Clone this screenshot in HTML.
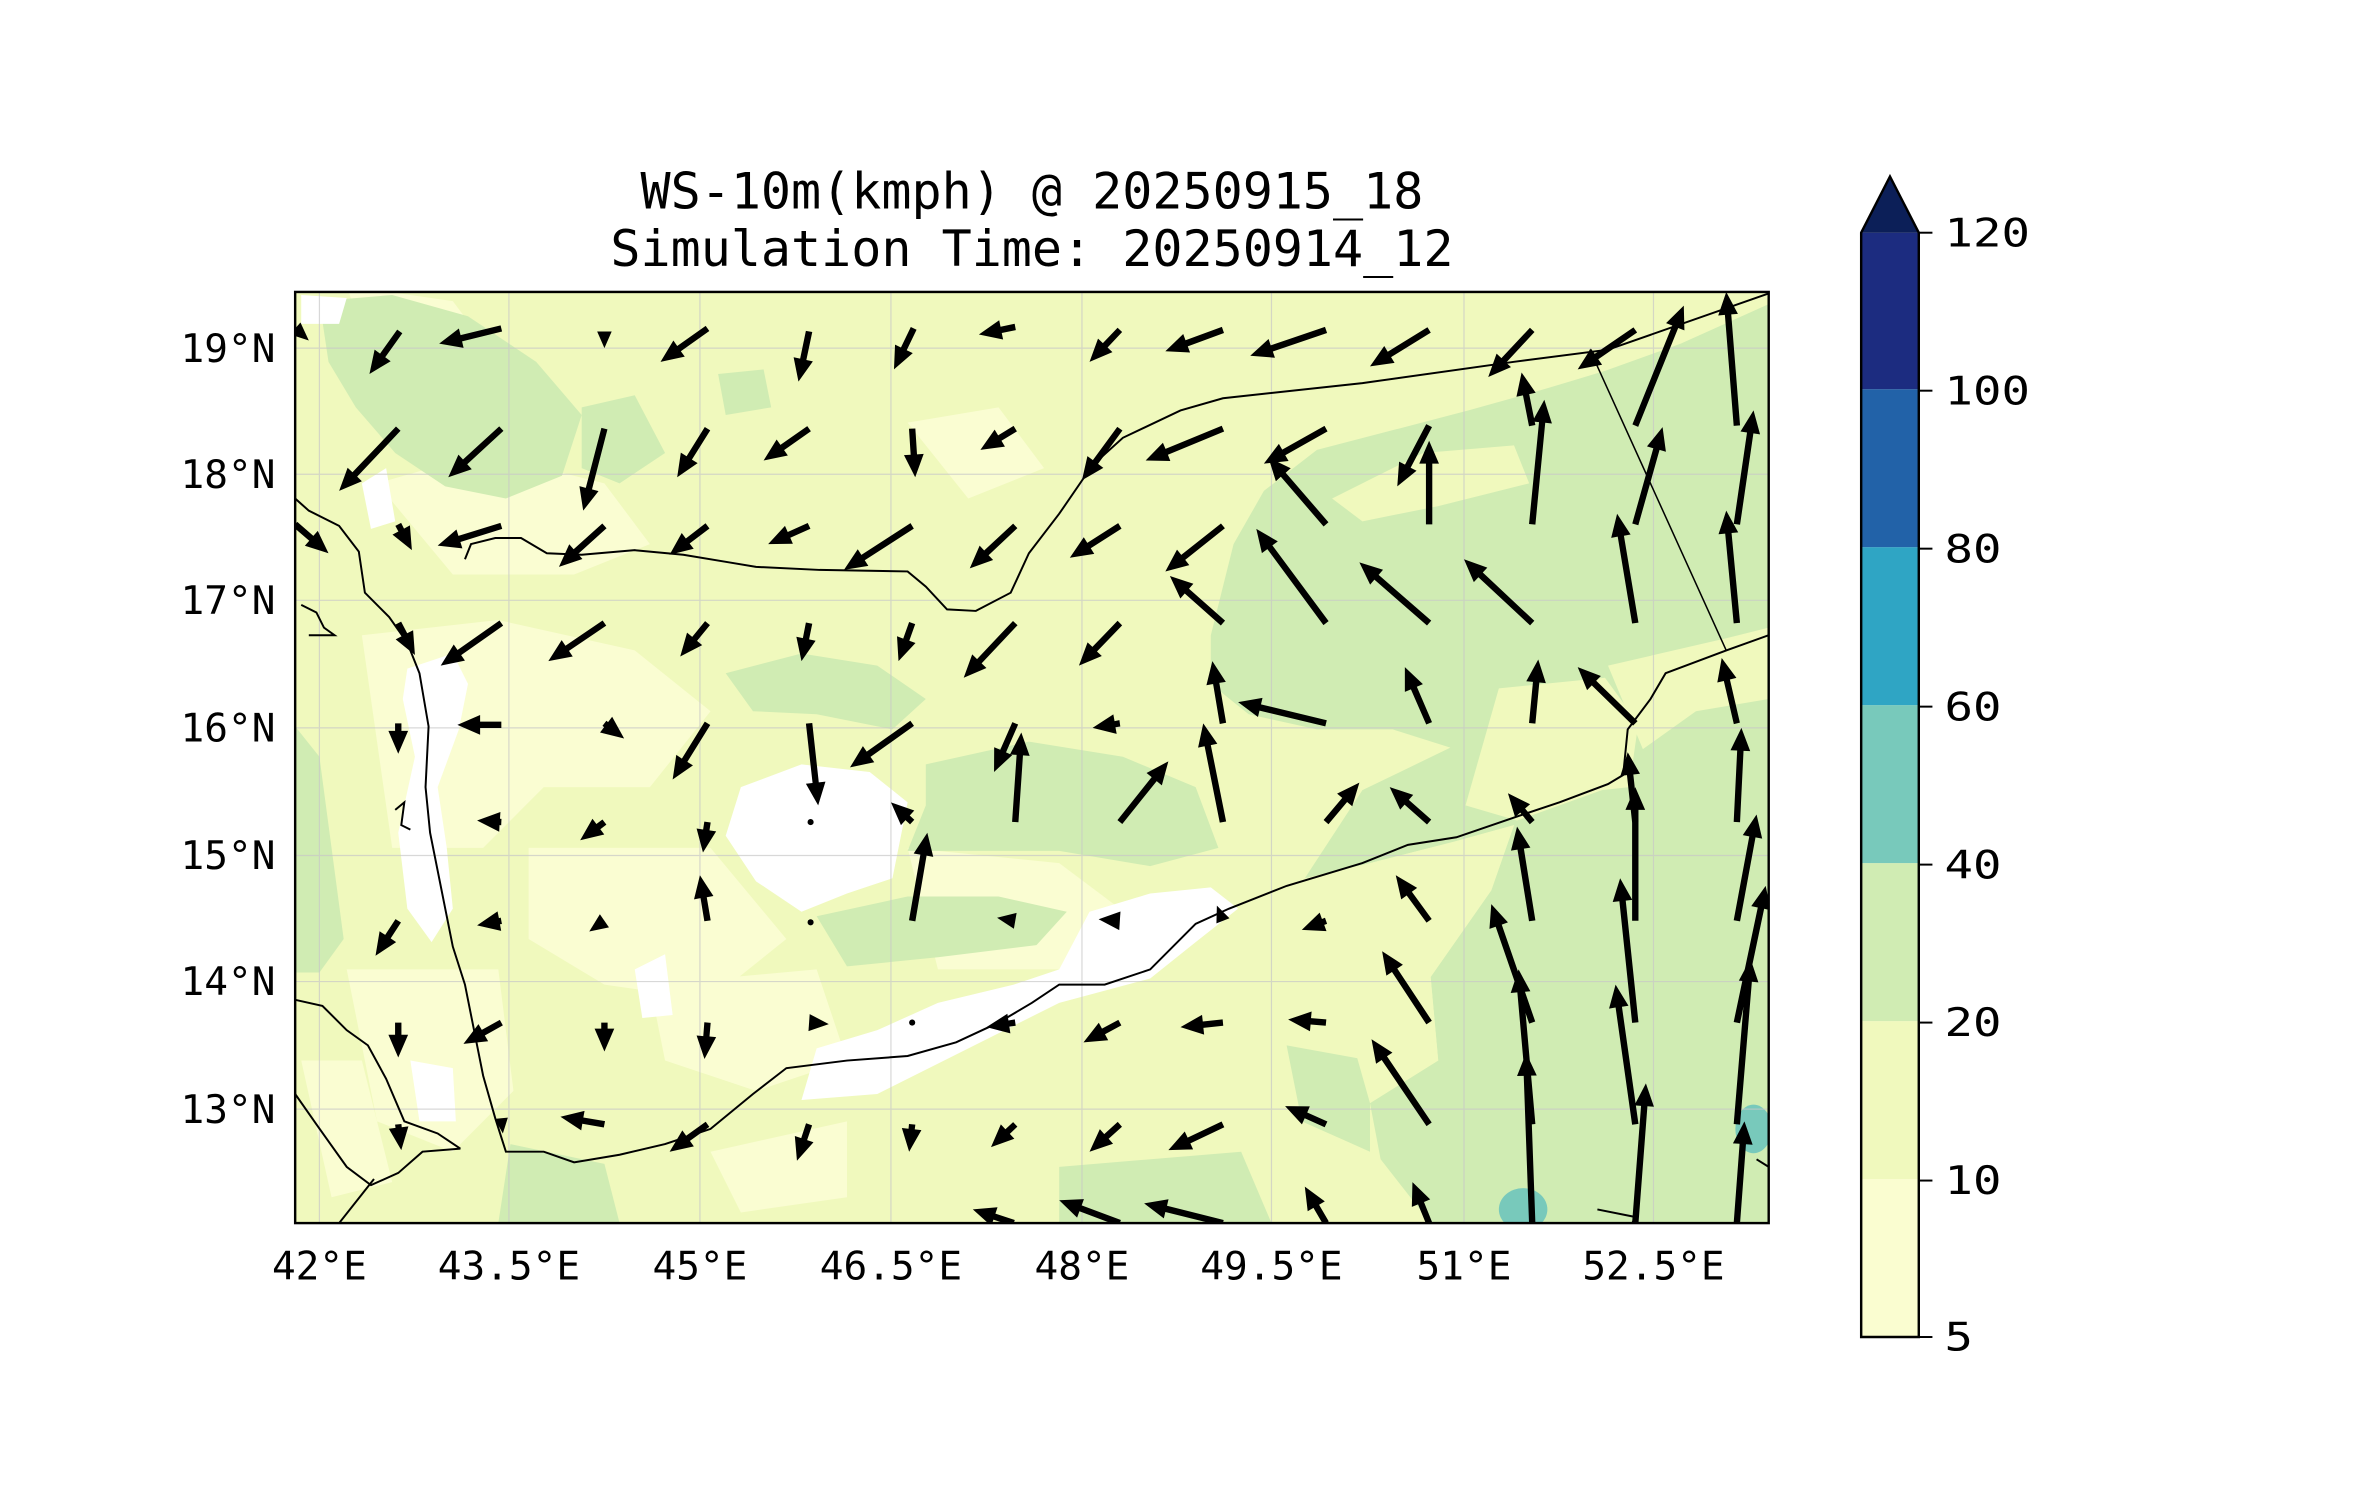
<!DOCTYPE html>
<html><head><meta charset="utf-8"><style>
html,body{margin:0;padding:0;background:#fff;}
svg{display:block;}
text{font-family:"DejaVu Sans Mono","Liberation Mono",monospace;fill:#000;}
</style></head><body>
<svg id="s" width="2371" height="1500" viewBox="1.3 1.8 1564 987.5" preserveAspectRatio="none" xmlns="http://www.w3.org/2000/svg">
<defs><clipPath id="cp"><rect x="196" y="194" width="972" height="613"/></clipPath></defs>
<text x="682" y="139" font-size="33" text-anchor="middle">WS-10m(kmph) @ 20250915_18</text>
<text x="682" y="177" font-size="33" text-anchor="middle">Simulation Time: 20250914_12</text>
<g clip-path="url(#cp)">
<rect x="196" y="194" width="972" height="613" fill="#f0f9bd"/>
<g fill="#fafdd2">
<path d="M230,190 L300,200 L330,240 L300,260 L250,250Z"/>
<path d="M250,320 L320,300 L400,320 L430,360 L380,380 L300,380Z"/>
<path d="M240,420 L330,410 L420,430 L470,470 L430,520 L360,520 L320,560 L260,560Z"/>
<path d="M350,560 L470,560 L520,620 L470,660 L400,650 L350,620Z"/>
<path d="M430,650 L540,640 L560,700 L500,720 L440,700Z"/>
<path d="M600,560 L700,570 L740,600 L700,640 L620,640Z"/>
<path d="M230,640 L330,640 L340,720 L300,760 L250,740Z"/>
<path d="M470,760 L560,740 L560,790 L490,800Z"/>
<path d="M600,280 L660,270 L690,310 L640,330Z"/>
<path d="M200,700 L240,700 L260,780 L220,790Z"/>
</g>
<g fill="#d0ecb3">
<path d="M212,200 L260,196 L310,210 L355,240 L385,275 L372,315 L335,330 L295,322 L262,300 L236,270 L218,240Z"/>
<path d="M385,270 L420,262 L440,300 L410,320 L385,310Z"/>
<path d="M475,248 L505,245 L510,270 L480,275Z"/>
<path d="M480,445 L530,432 L580,440 L612,462 L590,482 L540,472 L498,470Z"/>
<path d="M612,505 L680,490 L742,500 L790,520 L805,560 L760,572 L700,562 L650,562 L600,562 L612,532Z"/>
<path d="M540,605 L600,592 L660,592 L705,602 L685,624 L620,632 L560,638Z"/>
<path d="M800,420 L815,360 L835,325 L870,298 L920,285 L970,272 L1020,258 L1060,246 L1110,228 L1168,202 L1168,807 L945,807 L912,765 L905,728 L950,700 L945,645 L985,588 L1000,545 L960,556 L905,570 L862,580 L900,522 L958,494 L920,482 L870,482 L825,472 L800,452Z"/>
<path d="M196,480 L212,500 L228,620 L212,642 L196,642Z"/>
<path d="M338,755 L400,768 L410,807 L330,807Z"/>
<path d="M700,770 L820,760 L840,807 L700,807Z"/>
<path d="M850,690 L905,700 L905,760 L860,740Z"/>
</g>
<g fill="#f0f9bd">
<path d="M990,455 L1060,448 L1082,478 L1076,520 L1058,522 L1002,542 L968,532Z"/>
<path d="M1062,440 L1140,422 L1168,415 L1168,462 L1120,470 L1085,495Z"/>
<path d="M905,570 L960,556 L1000,545 L985,588 L945,645 L950,700 L905,728 L880,640 L862,582Z"/>
<path d="M880,330 L940,300 L1000,295 L1010,320 L950,335 L900,345Z"/>
</g>
<g fill="#ffffff">
<path d="M270,442 L300,432 L310,452 L304,482 L290,520 L296,560 L300,600 L286,622 L270,600 L264,550 L275,500 L267,462Z"/>
<path d="M490,520 L530,505 L575,510 L600,530 L590,580 L560,590 L530,602 L500,582 L480,552Z"/>
<path d="M540,692 L580,680 L620,662 L670,650 L700,640 L720,602 L760,590 L800,586 L818,600 L790,622 L760,646 L700,662 L660,682 L620,702 L580,722 L530,726Z"/>
<path d="M240,320 L256,310 L262,345 L246,350Z"/>
<path d="M272,700 L300,705 L302,740 L278,740Z"/>
<path d="M420,640 L440,630 L445,670 L425,672Z"/>
<path d="M200,196 L230,198 L225,215 L200,215Z"/>
</g>
<g fill="#78c9bb">
<ellipse cx="1006" cy="798" rx="16" ry="14"/>
<ellipse cx="1158" cy="745" rx="12" ry="16"/>
</g>
<g stroke="#c8c8c8" stroke-width="0.8" opacity="0.7">
<line x1="212" y1="194" x2="212" y2="807"/><line x1="337" y1="194" x2="337" y2="807"/>
<line x1="463" y1="194" x2="463" y2="807"/><line x1="589" y1="194" x2="589" y2="807"/>
<line x1="715" y1="194" x2="715" y2="807"/><line x1="840" y1="194" x2="840" y2="807"/>
<line x1="967" y1="194" x2="967" y2="807"/><line x1="1092" y1="194" x2="1092" y2="807"/>
<line x1="196" y1="231" x2="1168" y2="231"/><line x1="196" y1="314" x2="1168" y2="314"/>
<line x1="196" y1="397" x2="1168" y2="397"/><line x1="196" y1="481" x2="1168" y2="481"/>
<line x1="196" y1="565" x2="1168" y2="565"/><line x1="196" y1="648" x2="1168" y2="648"/>
<line x1="196" y1="732" x2="1168" y2="732"/>
</g>
<g fill="none" stroke="#000" stroke-width="1.3">
<polyline points="196,330 205,338 225,348 238,365 242,392 258,408 270,425 278,445 284,480 282,520 285,550 290,575 295,600 300,625 308,650 314,680 320,710 328,738 335,760 360,760 380,767 410,762 440,755 470,745 498,722 520,705 560,700 600,697 632,688 660,675 682,662 700,650 730,650 760,640 790,610 812,600 850,585 900,570 930,558 962,553 1000,540 1030,530 1062,518 1072,512 1075,482 1090,462 1100,445 1140,430 1168,420"/>
<polyline points="196,660 214,664 230,680 244,690 256,712 268,740 290,748 305,758"/>
<polyline points="196,722 210,742 230,770 246,782 264,774 280,760 305,758"/>
<polyline points="225,807 248,778"/>
<polyline points="308,370 312,360 328,356 345,356 362,366 385,367 420,364 452,367 482,372 500,375 542,377 600,378 612,388 626,403 645,404 668,392 680,366 700,340 722,308 742,290 780,272 808,264 900,254 1000,240 1062,232 1168,195"/>
<line x1="1050" y1="232" x2="1140" y2="430" stroke-width="1"/>
<polyline points="200,400 210,405 215,415 222,420 205,420"/>
<polyline points="262,535 268,530 266,545 272,548"/>
<polyline points="1055,798 1080,803 1078,807"/>
<polyline points="1160,765 1168,770"/>
</g>
<g id="arrows" fill="#000"></g>
</g>
<rect x="196" y="194" width="972" height="613" fill="none" stroke="#000" stroke-width="1.6"/>
<g font-size="26" text-anchor="middle">
<text x="212" y="844">42°E</text><text x="337" y="844">43.5°E</text><text x="463" y="844">45°E</text>
<text x="589" y="844">46.5°E</text><text x="715" y="844">48°E</text><text x="840" y="844">49.5°E</text>
<text x="967" y="844">51°E</text><text x="1092" y="844">52.5°E</text>
</g>
<g font-size="26" text-anchor="end">
<text x="183" y="240">19°N</text><text x="183" y="323">18°N</text><text x="183" y="406">17°N</text>
<text x="183" y="490">16°N</text><text x="183" y="574">15°N</text><text x="183" y="657">14°N</text>
<text x="183" y="741">13°N</text>
</g>
<rect x="1229" y="778" width="38" height="104" fill="#fafdd0"/>
<rect x="1229" y="674" width="38" height="104" fill="#f0f9bd"/>
<rect x="1229" y="570" width="38" height="104" fill="#d0ecb3"/>
<rect x="1229" y="466" width="38" height="104" fill="#78c9bb"/>
<rect x="1229" y="362" width="38" height="104" fill="#2fa5c4"/>
<rect x="1229" y="258" width="38" height="104" fill="#2262a8"/>
<rect x="1229" y="155" width="38" height="103" fill="#1c2c80"/>
<polygon points="1229,155 1248,118 1267,155" fill="#0c1f58"/>
<polygon points="1229,882 1229,155 1248,118 1267,155 1267,882" fill="none" stroke="#000" stroke-width="1.6"/>
<g stroke="#000" stroke-width="1.3">
<line x1="1267" y1="155" x2="1276" y2="155"/><line x1="1267" y1="259" x2="1276" y2="259"/>
<line x1="1267" y1="363" x2="1276" y2="363"/><line x1="1267" y1="467" x2="1276" y2="467"/>
<line x1="1267" y1="571" x2="1276" y2="571"/><line x1="1267" y1="675" x2="1276" y2="675"/>
<line x1="1267" y1="779" x2="1276" y2="779"/><line x1="1267" y1="882" x2="1276" y2="882"/>
</g>
<g font-size="26" transform="translate(1284,0) scale(1.2,1) translate(-1284,0)">
<text x="1284" y="164">120</text><text x="1284" y="268">100</text><text x="1284" y="372">80</text>
<text x="1284" y="476">60</text><text x="1284" y="580">40</text><text x="1284" y="684">20</text>
<text x="1284" y="788">10</text><text x="1284" y="891">5</text>
</g>
</svg>
<script>
var A=[
[196,218,205,226],[265,220,245,248],[332,218,291,228],[400,220,400,231],[468,218,437,240],[535,220,528,253],[604,218,591,245],[671,217,647,222],[740,219,720,240],[808,219,770,233],[876,219,826,236],[944,219,905,243],[1012,219,983,250],[1080,219,1042,245],[1080,282,1112,203],[1147,282,1140,194],
[264,284,225,325],[332,284,297,316],[400,284,386,338],[468,284,448,316],[535,284,505,305],[603,284,605,316],[671,284,648,298],[740,284,715,318],[808,284,757,305],[876,284,835,307],[944,282,923,322],[1012,282,1005,247],
[196,347,218,366],[264,347,273,364],[332,348,290,361],[400,348,370,375],[468,348,443,367],[535,348,508,360],[603,348,558,377],[671,348,641,376],[740,348,707,369],[808,348,770,378],[876,347,838,303],[944,347,944,292],[1012,347,1020,265],[1080,347,1098,283],[1147,347,1158,272],
[264,412,275,433],[332,412,292,440],[400,412,363,437],[468,412,450,434],[535,412,530,437],[603,412,594,437],[671,412,637,448],[740,412,713,440],[808,412,773,381],[876,412,830,350],[944,412,898,372],[1012,412,967,370],[1080,412,1068,340],[1147,412,1140,338],
[264,478,264,498],[332,479,303,479],[400,478,413,488],[468,478,445,515],[535,478,541,532],[603,478,562,507],[671,478,657,510],[740,478,722,481],[808,478,801,437],[876,478,818,464],[944,478,928,441],[1012,478,1016,436],[1080,478,1042,441],[1147,478,1137,435],
[332,543,316,542],[400,543,384,555],[468,543,465,563],[603,543,589,530],[671,543,675,484],[740,543,772,503],[808,543,795,478],[876,543,898,517],[944,543,918,520],[1012,543,996,524],[1080,543,1075,497],[1147,543,1150,481],
[264,608,249,631],[332,608,316,611],[400,608,390,615],[468,608,463,578],[603,608,613,550],[671,608,659,606],[740,608,726,607],[808,608,804,598],[876,608,860,614],[944,608,922,578],[1012,608,1002,546],[1080,608,1080,520],[1147,608,1160,538],
[264,675,264,698],[332,675,307,689],[400,675,400,694],[468,675,466,699],[535,675,548,676],[671,675,652,678],[740,675,716,688],[808,675,780,678],[876,675,851,673],[944,675,913,628],[1012,675,985,597],[1080,675,1070,580],[1147,675,1166,585],
[264,742,266,759],[332,738,333,748],[400,742,371,737],[468,742,443,760],[535,742,527,766],[603,742,601,760],[671,742,655,757],[740,742,720,760],[808,742,772,759],[876,742,849,730],[944,742,906,686],[1012,742,1003,640],[1080,742,1067,650],[1147,742,1156,633],
[670,807,643,798],[740,807,700,792],[808,807,756,794],[876,807,862,783],[944,807,933,780],[1012,807,1008,695],[1080,807,1087,715],[1147,807,1152,740]
];
var g=document.getElementById('arrows'),s='';
A.forEach(function(a){
var tx=a[0],ty=a[1],hx=a[2],hy=a[3],dx=hx-tx,dy=hy-ty,L=Math.sqrt(dx*dx+dy*dy);if(L<0.5)return;
var ux=dx/L,uy=dy/L,nx=-uy,ny=ux,w=2.1,hl=15,hw=6.5;
var p=function(x,y){return x.toFixed(1)+','+y.toFixed(1);};
if(L<=hl){var k=L/hl;hw*=k;
s+='<polygon points="'+p(hx,hy)+' '+p(tx+nx*hw,ty+ny*hw)+' '+p(tx-nx*hw,ty-ny*hw)+'"/>';return;}
var bx=hx-ux*hl,by=hy-uy*hl;
s+='<polygon points="'+p(tx+nx*w,ty+ny*w)+' '+p(bx+nx*w,by+ny*w)+' '+p(bx+nx*hw,by+ny*hw)+' '+p(hx,hy)+' '+p(bx-nx*hw,by-ny*hw)+' '+p(bx-nx*w,by-ny*w)+' '+p(tx-nx*w,ty-ny*w)+'"/>';
});
s+='<circle cx="536" cy="543" r="2"/><circle cx="536" cy="609" r="2"/><circle cx="603" cy="675" r="2"/>';
g.innerHTML=s;
</script>
</body></html>
